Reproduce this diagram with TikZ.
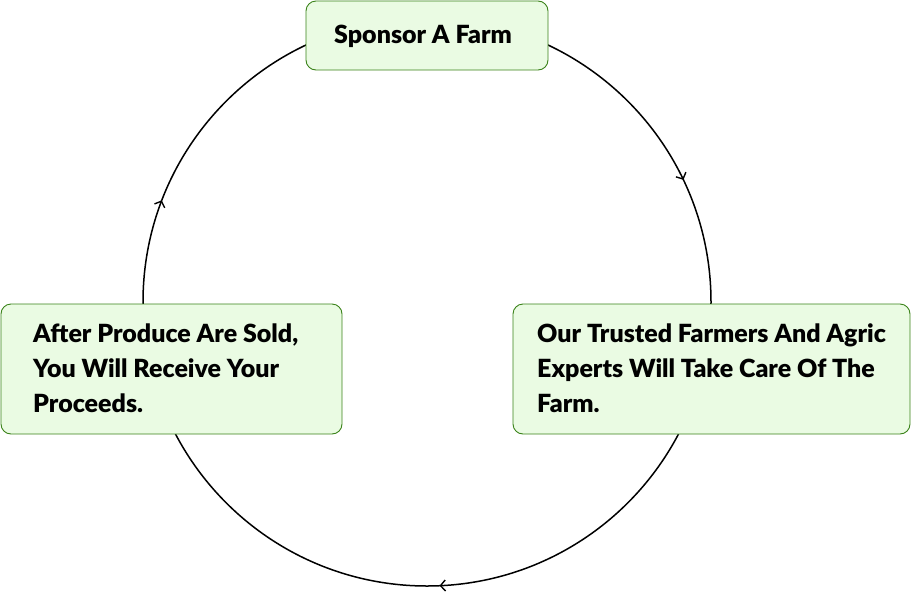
\documentclass[tikz,border=0pt]{standalone}
\usepackage{fontspec}
\setmainfont{Lato}[BoldFont={Lato Black}]
\usetikzlibrary{arrows.meta,decorations.markings,calc}
\definecolor{boxfill}{HTML}{EAFBE3}
\definecolor{boxline}{HTML}{3A8219}
\begin{document}
\begin{tikzpicture}[x=1pt,y=1pt,
  cycleline/.style={line width=1.5pt, black},
  flowmark/.style={postaction={decorate},
    decoration={markings, mark=at position #1 with {\arrow{Straight Barb[length=5pt,width=11pt,line width=1.4pt]}}}},
  stage/.style={draw=boxline, fill=boxfill, rounded corners=10pt, line width=0.9pt, inner sep=0pt},
  stagetext/.style={font=\bfseries\fontsize{25}{35}\selectfont, align=left, anchor=base west, inner sep=0pt}
]
\useasboundingbox (0,0) rectangle (911,-595);

% centre of the cycle
\coordinate (c) at (427,-302);

% cycle arcs: top -> right -> bottom -> left -> top
\draw[cycleline, flowmark=0.717] ([shift={(c)}]90:284) arc[start angle=90, end angle=0, radius=284];
\draw[cycleline, flowmark=0.486] ([shift={(c)}]0:284) arc[start angle=0, end angle=-180, radius=284];
\draw[cycleline, flowmark=0.233] ([shift={(c)}]180:284) arc[start angle=180, end angle=90, radius=284];

% stages
\node[stage, minimum width=242pt, minimum height=69pt] (sponsor) at (427,-35.5) {};
\node[stage, minimum width=397pt, minimum height=130pt] (care) at (711.5,-369) {};
\node[stage, minimum width=341pt, minimum height=130pt] (proceeds) at (171.5,-369) {};

% stage texts (multi-line nodes are anchored at their last baseline)
\node[stagetext] (sponsortext) at (334,-43) {Sponsor A Farm};
\node[stagetext] (caretext) at (537,-412.5) {Our Trusted Farmers And Agric\\Experts Will Take Care Of The\\Farm.};
\node[stagetext] (proceedstext) at (33,-412) {After Produce Are Sold,\\You Will Receive Your\\Proceeds.};
\end{tikzpicture}
\end{document}
